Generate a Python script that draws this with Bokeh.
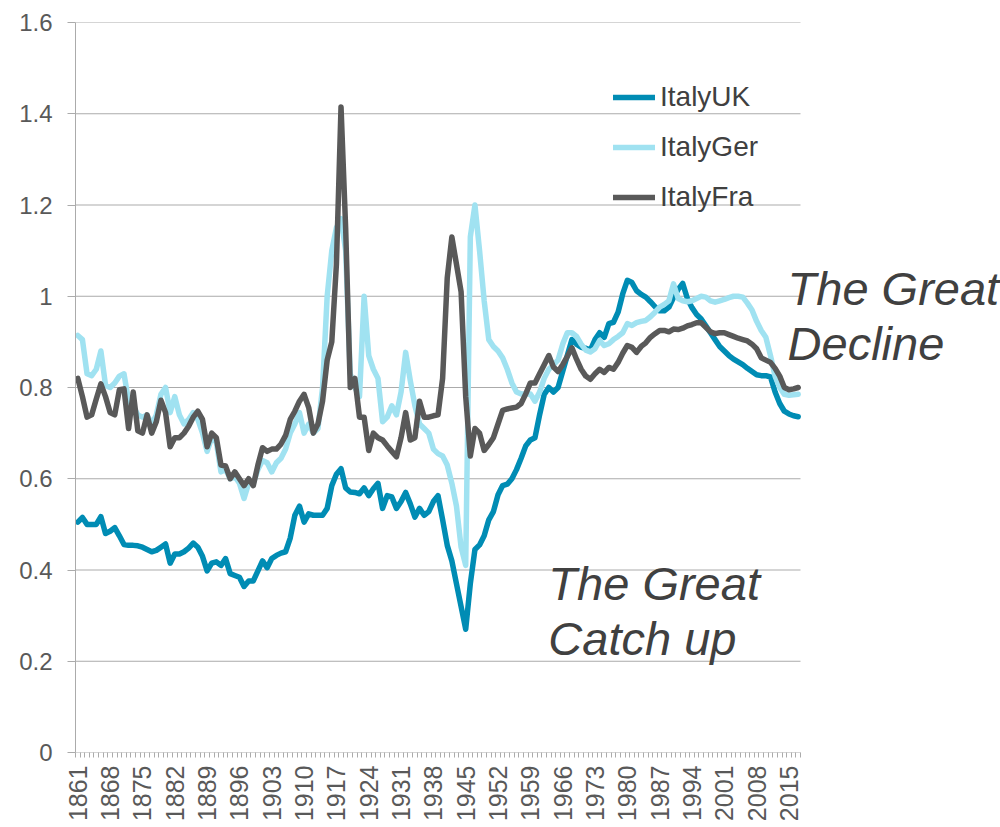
import math
from bokeh.plotting import figure
from bokeh.models import (Range1d, FixedTicker, NumeralTickFormatter, Legend,
                          LegendItem, Label)
from bokeh.embed import file_html
from bokeh.resources import INLINE

years = list(range(1861, 2018))

italy_uk = [
    0.505, 0.515, 0.500, 0.500, 0.500, 0.517, 0.480, 0.485, 0.493,          # 1861-1869
    0.475, 0.456, 0.454, 0.454, 0.453, 0.450, 0.445, 0.440, 0.443, 0.450,   # 1870-1879
    0.457, 0.415, 0.435, 0.435, 0.440, 0.448, 0.459, 0.450, 0.430, 0.398,   # 1880-1889
    0.415, 0.418, 0.410, 0.425, 0.392, 0.388, 0.384, 0.364, 0.376, 0.376,   # 1890-1899
    0.398, 0.420, 0.405, 0.425, 0.432, 0.437, 0.440, 0.470, 0.520, 0.540,   # 1900-1909
    0.505, 0.523, 0.520, 0.520, 0.520, 0.535, 0.585, 0.610, 0.622, 0.580,   # 1910-1919
    0.571, 0.570, 0.567, 0.580, 0.563, 0.578, 0.590, 0.535, 0.563, 0.560,   # 1920-1929
    0.535, 0.550, 0.570, 0.545, 0.516, 0.535, 0.520, 0.528, 0.550, 0.563,   # 1930-1939
    0.510, 0.454, 0.420, 0.370, 0.320, 0.270, 0.370, 0.445, 0.455, 0.475,   # 1940-1949
    0.510, 0.528, 0.565, 0.585, 0.588, 0.600, 0.620, 0.645, 0.672, 0.685,   # 1950-1959
    0.690, 0.740, 0.785, 0.800, 0.790, 0.800, 0.835, 0.870, 0.905, 0.895,   # 1960-1969
    0.888, 0.886, 0.882, 0.905, 0.920, 0.910, 0.940, 0.943, 0.965, 1.005,   # 1970-1979
    1.035, 1.030, 1.012, 1.004, 0.998, 0.988, 0.977, 0.968, 0.968, 0.976,   # 1980-1989
    0.997, 1.015, 1.028, 0.995, 0.975, 0.960, 0.950, 0.935, 0.920, 0.905,   # 1990-1999
    0.890, 0.880, 0.870, 0.862, 0.856, 0.850, 0.842, 0.835, 0.828, 0.826,   # 2000-2009
    0.826, 0.823, 0.790, 0.765, 0.748, 0.742, 0.738, 0.736,                 # 2010-2017
]

italy_ger = [
    0.914, 0.905, 0.830, 0.826, 0.840, 0.880, 0.805, 0.800, 0.810,          # 1861-1869
    0.825, 0.830, 0.770, 0.760, 0.740, 0.735, 0.740, 0.720, 0.740, 0.785,   # 1870-1879
    0.800, 0.745, 0.780, 0.740, 0.720, 0.730, 0.745, 0.730, 0.700, 0.660,   # 1880-1889
    0.690, 0.680, 0.615, 0.620, 0.600, 0.605, 0.590, 0.557, 0.590, 0.590,   # 1890-1899
    0.620, 0.640, 0.635, 0.615, 0.635, 0.645, 0.665, 0.700, 0.720, 0.745,   # 1900-1909
    0.700, 0.720, 0.700, 0.710, 0.800, 1.000, 1.100, 1.150, 1.170, 1.100,   # 1910-1919
    0.830, 0.800, 0.780, 1.000, 0.870, 0.840, 0.820, 0.725, 0.735, 0.760,   # 1920-1929
    0.740, 0.790, 0.877, 0.815, 0.760, 0.720, 0.710, 0.700, 0.665, 0.655,   # 1930-1939
    0.650, 0.630, 0.590, 0.540, 0.450, 0.410, 1.130, 1.200, 1.100, 0.990,   # 1940-1949
    0.905, 0.890, 0.880, 0.865, 0.840, 0.810, 0.790, 0.786, 0.786, 0.786,   # 1950-1959
    0.770, 0.790, 0.820, 0.840, 0.850, 0.860, 0.895, 0.920, 0.920, 0.912,   # 1960-1969
    0.895, 0.882, 0.878, 0.885, 0.903, 0.892, 0.896, 0.905, 0.912, 0.920,   # 1970-1979
    0.940, 0.936, 0.942, 0.945, 0.947, 0.955, 0.965, 0.976, 0.982, 0.990,   # 1980-1989
    1.027, 0.995, 0.990, 0.988, 0.990, 0.995, 1.000, 0.998, 0.990, 0.987,   # 1990-1999
    0.990, 0.993, 0.997, 1.000, 1.000, 0.998, 0.985, 0.970, 0.945, 0.925,   # 2000-2009
    0.910, 0.870, 0.825, 0.800, 0.785, 0.783, 0.784, 0.785,                 # 2010-2017
]

italy_fra = [
    0.820, 0.780, 0.735, 0.740, 0.775, 0.808, 0.780, 0.745, 0.740,          # 1861-1869
    0.795, 0.797, 0.710, 0.790, 0.705, 0.700, 0.740, 0.700, 0.725, 0.772,   # 1870-1879
    0.745, 0.670, 0.690, 0.690, 0.700, 0.715, 0.735, 0.748, 0.730, 0.670,   # 1880-1889
    0.700, 0.690, 0.630, 0.628, 0.600, 0.615, 0.600, 0.585, 0.600, 0.585,   # 1890-1899
    0.630, 0.668, 0.660, 0.665, 0.665, 0.676, 0.695, 0.730, 0.748, 0.770,   # 1900-1909
    0.785, 0.756, 0.700, 0.720, 0.770, 0.860, 0.900, 1.070, 1.415, 1.150,   # 1910-1919
    0.800, 0.820, 0.735, 0.735, 0.662, 0.700, 0.690, 0.685, 0.672, 0.660,   # 1920-1929
    0.648, 0.690, 0.745, 0.685, 0.690, 0.770, 0.735, 0.735, 0.738, 0.740,   # 1930-1939
    0.820, 1.040, 1.130, 1.070, 1.010, 0.780, 0.650, 0.710, 0.700, 0.662,   # 1940-1949
    0.675, 0.690, 0.720, 0.750, 0.753, 0.755, 0.757, 0.765, 0.786, 0.810,   # 1950-1959
    0.810, 0.830, 0.850, 0.870, 0.845, 0.835, 0.850, 0.868, 0.887, 0.862,   # 1960-1969
    0.840, 0.825, 0.818, 0.830, 0.840, 0.833, 0.844, 0.840, 0.855, 0.875,   # 1970-1979
    0.892, 0.888, 0.877, 0.890, 0.898, 0.910, 0.918, 0.925, 0.925, 0.922,   # 1980-1989
    0.928, 0.927, 0.930, 0.935, 0.938, 0.942, 0.942, 0.932, 0.922, 0.918,   # 1990-1999
    0.920, 0.920, 0.916, 0.912, 0.908, 0.905, 0.902, 0.895, 0.885, 0.865,   # 2000-2009
    0.860, 0.855, 0.842, 0.825, 0.800, 0.795, 0.797, 0.800,                 # 2010-2017
]

x_tick_years = list(range(1861, 2016, 7))      # 1861, 1868, ..., 2015
y_ticks = [0, 0.2, 0.4, 0.6, 0.8, 1.0, 1.2, 1.4, 1.6]

series_names = ["ItalyUK", "ItalyGer", "ItalyFra"]
series_colors = ["#008CB4", "#A0E2F1", "#595959"]

FONT = "Liberation Sans"
TXT = "#595959"
GRID = "#ABABAB"

# category band edges of the year axis
x_lo = years[0] - 0.5
x_hi = years[-1] + 0.5
PLOT_W = 725                       # pixel width of the year band
px_per_year = PLOT_W / (x_hi - x_lo)
FRAME_W = 925                      # frame continues to the right so the notes can overflow
x_end = x_lo + FRAME_W / px_per_year

p = figure(frame_width=FRAME_W, frame_height=730,
           x_range=Range1d(x_lo, x_end), y_range=Range1d(0, 1.6),
           output_backend="svg", toolbar_location=None,
           min_border_left=75, min_border_right=0,
           min_border_top=22, min_border_bottom=73)
p.outline_line_color = None
p.background_fill_color = "white"
p.border_fill_color = "white"

# horizontal gridlines (only across the year band)
p.segment(x0=[x_lo] * len(y_ticks), y0=y_ticks, x1=[x_hi] * len(y_ticks), y1=y_ticks,
          line_color=GRID, line_width=1)

renderers = []
for vals, col in zip([italy_uk, italy_ger, italy_fra], series_colors):
    r = p.line(years, vals, line_color=col, line_width=5.5,
               line_join="round", line_cap="round")
    renderers.append(r)

# x axis
xa = p.xaxis[0]
xa.ticker = FixedTicker(ticks=x_tick_years,
                        minor_ticks=[y - 0.5 for y in range(years[0], years[-1] + 2)])
xa.major_tick_line_color = None
xa.major_tick_out = 5
xa.major_tick_in = 0
xa.minor_tick_out = 5
xa.minor_tick_in = 0
xa.minor_tick_line_color = GRID
xa.axis_line_color = None
xa.major_label_orientation = math.pi / 2
xa.major_label_standoff = 8
xa.major_label_text_font = FONT
xa.major_label_text_font_size = "25px"
xa.major_label_text_color = TXT
p.xgrid.grid_line_color = None

# y axis
ya = p.yaxis[0]
ya.ticker = FixedTicker(ticks=y_ticks)
ya.formatter = NumeralTickFormatter(format="0.[0]")
ya.major_tick_out = 8
ya.major_tick_in = 0
ya.major_tick_line_color = GRID
ya.minor_tick_line_color = None
ya.axis_line_color = GRID
ya.major_label_standoff = 15
ya.major_label_text_font = FONT
ya.major_label_text_font_size = "24px"
ya.major_label_text_color = TXT
p.ygrid.grid_line_color = None

legend = Legend(items=[LegendItem(label=n, renderers=[r])
                       for n, r in zip(series_names, renderers)],
                location=(538, 538))
legend.label_text_font = FONT
legend.label_text_font_size = "28px"
legend.label_text_color = "#404040"
legend.glyph_width = 42
legend.glyph_height = 34
legend.label_height = 34
legend.spacing = 16
legend.padding = 0
legend.margin = 0
legend.label_standoff = 5
legend.border_line_color = None
legend.background_fill_alpha = 0.0
p.add_layout(legend)

ann_style = dict(text_font=FONT, text_font_size="47px", text_font_style="italic",
                 text_color="#404040", text_baseline="alphabetic")
p.add_layout(Label(x=2014.7, y=1.017, text="The Great", **ann_style))
p.add_layout(Label(x=2014.7, y=0.896, text="Decline", **ann_style))
p.add_layout(Label(x=1962.9, y=0.370, text="The Great", **ann_style))
p.add_layout(Label(x=1962.9, y=0.249, text="Catch up", **ann_style))

open("out.html", "w").write(file_html(p, INLINE))
